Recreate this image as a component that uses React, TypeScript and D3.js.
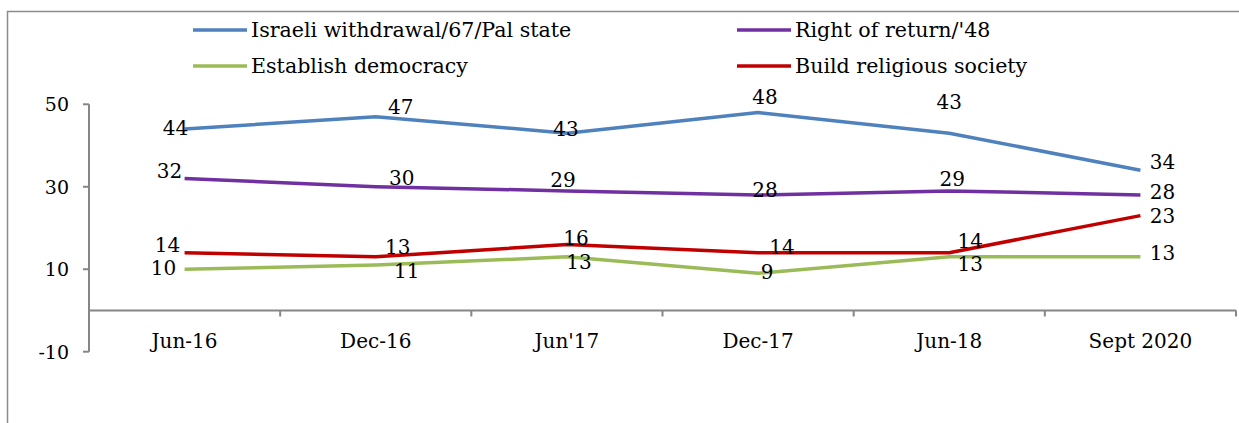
import React from "react";
import * as d3 from "d3";

const categories = ["Jun-16", "Dec-16", "Jun'17", "Dec-17", "Jun-18", "Sept 2020"];
const seriesNames = [
  "Israeli withdrawal/67/Pal state",
  "Right of return/'48",
  "Establish democracy",
  "Build religious society",
];
const withdrawal = [44, 47, 43, 48, 43, 34];
const rightOfReturn = [32, 30, 29, 28, 29, 28];
const democracy = [10, 11, 13, 9, 13, 13];
const religious = [14, 13, 16, 14, 14, 23];
const yTicks = [-10, 10, 30, 50];

const colors = ["#4F81BD", "#7030A0", "#9BBB59", "#C00000"];
// label offsets (dx, dy) relative to the data point, mirroring the source layout
const labelOffsets: [number, number][][] = [
  [[-9, -1], [25, -10], [-1, -4], [7, -16], [0, -31], [22, -8]],
  [[-15, -8], [26, -9], [-4, -11], [7, -5], [3, -12], [22, -3]],
  [[-21, -1], [31, 6], [12, 5], [9, -1], [21, 7], [22, -4]],
  [[-17, -8], [22, -10], [9, -6], [24, -6], [21, -12], [22, 0]],
];

const W = 1239;
const H = 423;
const left = 89;
const right = 1236;
const top = 104.3;
const bottom = 351.7;
const FONT = "'DejaVu Serif', serif";

export default function App() {
  const series = [withdrawal, rightOfReturn, democracy, religious];
  const x = d3.scaleBand<string>().domain(categories).range([left, right]).padding(0);
  const y = d3.scaleLinear().domain([-10, 50]).range([bottom, top]);
  const cx = (c: string) => (x(c) as number) + x.bandwidth() / 2;
  const line = d3
    .line<number>()
    .x((_, i) => cx(categories[i]))
    .y((v) => y(v));
  const y0 = y(0);
  const boundaries = categories.map((c) => x(c) as number).concat([right]);

  const legendItems = [
    { i: 0, lx: 193, ly: 30 },
    { i: 1, lx: 737, ly: 30 },
    { i: 2, lx: 193, ly: 66 },
    { i: 3, lx: 737, ly: 66 },
  ];

  return (
    <svg
      width={W}
      height={H}
      style={{ position: "absolute", left: 0, top: 0, background: "#fff" }}
      fontFamily={FONT}
    >
      <rect x={7.5} y={11.5} width={W + 20} height={H + 20} fill="#fff" stroke="#8c8c8c" strokeWidth={1.5} />
      {/* legend */}
      {legendItems.map(({ i, lx, ly }) => (
        <g key={i}>
          <line x1={lx} x2={lx + 54} y1={ly} y2={ly} stroke={colors[i]} strokeWidth={3.5} />
          <text x={lx + 58} y={ly} dominantBaseline="central" fontSize={20.6} fill="#000">
            {seriesNames[i]}
          </text>
        </g>
      ))}
      {/* y axis */}
      <line x1={left} x2={left} y1={top} y2={bottom} stroke="#868686" strokeWidth={2} />
      {yTicks.map((t) => (
        <g key={t}>
          <line x1={left - 6} x2={left} y1={y(t)} y2={y(t)} stroke="#868686" strokeWidth={2} />
          <text x={69} y={y(t)} textAnchor="end" dominantBaseline="central" fontSize={19} fill="#000">
            {t}
          </text>
        </g>
      ))}
      {/* x axis at 0 */}
      <line x1={left} x2={right} y1={y0} y2={y0} stroke="#868686" strokeWidth={2} />
      {boundaries.slice(1).map((b, i) => (
        <line key={i} x1={b} x2={b} y1={y0} y2={y0 + 6} stroke="#868686" strokeWidth={2} />
      ))}
      {categories.map((c) => (
        <text key={c} x={cx(c)} y={341} textAnchor="middle" dominantBaseline="central" fontSize={20} fill="#000">
          {c}
        </text>
      ))}
      {/* lines */}
      {series.map((s, si) => (
        <path key={si} d={line(s) || ""} fill="none" stroke={colors[si]} strokeWidth={3.5} strokeLinejoin="round" />
      ))}
      {/* data labels */}
      {series.map((s, si) =>
        s.map((v, i) => (
          <text
            key={`${si}-${i}`}
            x={cx(categories[i]) + labelOffsets[si][i][0]}
            y={y(v) + labelOffsets[si][i][1]}
            textAnchor="middle"
            dominantBaseline="central"
            fontSize={20}
            fill="#000"
          >
            {v}
          </text>
        ))
      )}
    </svg>
  );
}
